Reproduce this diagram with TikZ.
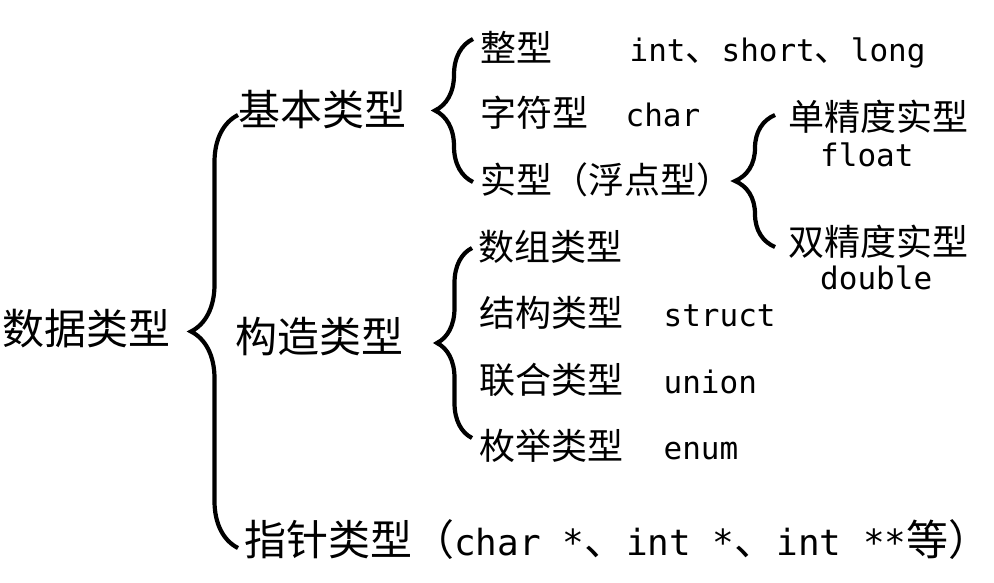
\documentclass[tikz,border=0pt]{standalone}
\usepackage{fontspec}
\usepackage{tikz}
\usetikzlibrary{decorations.pathreplacing}
\usetikzlibrary{positioning}
\setmainfont{Noto Sans CJK SC}
\newfontfamily\code{DejaVu Sans Mono}
\newcommand\latbig[1]{{\fontsize{36}{43}\selectfont\code #1}}
\newcommand\dun{{\fontsize{36}{43}\selectfont\rmfamily 、}}
\tikzset{brc/.style = {decorate, decoration={brace, amplitude=#1}, line width=4.2pt}}
\tikzset{big/.style = {font=\fontsize{42}{50}\selectfont, inner sep=0, anchor=west}}
\tikzset{small/.style = {font=\fontsize{36}{43}\selectfont, inner sep=0, anchor=west}}
\tikzset{code/.style = {font=\fontsize{31}{37}\selectfont\code, inner sep=0, anchor=base west}}

\begin{document}
\begin{tikzpicture}[x=1pt, y=-1pt]
    \useasboundingbox (0, 0) rectangle (994, 582);

    % top level
    \node [big] (data) at (2, 329) {数据类型};
    \node [big] (basic) at (238, 110) {基本类型};
    \node [big] (built) at (235, 337) {构造类型};
    \node [big] (ptr) at (244, 540) {指针类型（\latbig{char *}、\latbig{int *}、\latbig{int **}等）\kern-22pt};

    % basic types
    \node [small] (zheng) at (480, 47) {整型};
    \node [code] (zhengC) at ([xshift=77]zheng.base east) {int\dun short\dun long};
    \node [small] (zifu) at (480, 113) {字符型};
    \node [code] (zifuC) at ([xshift=37]zifu.base east) {char};
    \node [small] (shi) at (480, 180) {实型（浮点型）};

    \node [small] (dan) at (788, 117) {单精度实型};
    \node [code, anchor=west] (danC) at (820, 155) {float};
    \node [small] (shuang) at (788, 242) {双精度实型};
    \node [code, anchor=west] (shuangC) at (820, 278) {double};

    % built types
    \node [small] (shuzu) at (478, 247) {数组类型};
    \node [small] (jiegou) at (479, 313) {结构类型};
    \node [code] (jiegouC) at ([xshift=40]jiegou.base east) {struct};
    \node [small] (lianhe) at (479, 380) {联合类型};
    \node [code] (lianheC) at ([xshift=40]lianhe.base east) {union};
    \node [small] (meiju) at (479, 446) {枚举类型};
    \node [code] (meijuC) at ([xshift=40]meiju.base east) {enum};

    % braces
    \coordinate (b1s) at (238, 548);
    \coordinate (b1e) at (238, 115);
    \coordinate (b2s) at (473, 182);
    \coordinate (b2e) at (473, 39);
    \coordinate (b3s) at (775, 247);
    \coordinate (b3e) at (775, 115);
    \coordinate (b4s) at (472, 438);
    \coordinate (b4e) at (472, 248);

    \draw [brc=47pt] (b1s) -- (b1e);
    \draw [brc=38pt] (b2s) -- (b2e);
    \draw [brc=40pt] (b3s) -- (b3e);
    \draw [brc=35pt] (b4s) -- (b4e);
\end{tikzpicture}
\end{document}
